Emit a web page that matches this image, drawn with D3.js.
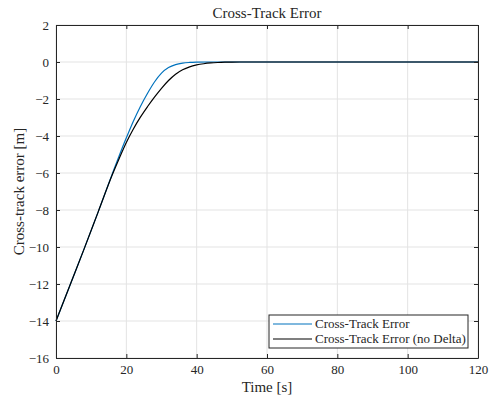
<!DOCTYPE html>
<html>
<head>
<meta charset="utf-8">
<script src="https://cdn.jsdelivr.net/npm/d3@7"></script>
<style>
  body { margin: 0; background: #fff; }
  svg text { font-family: "Liberation Serif", "Times New Roman", serif; fill: #262626; }
</style>
</head>
<body>
<svg id="chart" width="492" height="399"></svg>
<script>
const timeWithDelta  = [0, 4, 8, 12, 16, 18, 20, 22, 24, 26, 28, 30, 32, 34, 36, 38, 40, 44, 50, 60, 80, 100, 120];
const errorWithDelta = [-14, -12.05, -10.1, -8.1, -6.05, -5.05, -4.1, -3.2, -2.4, -1.7, -1.08, -0.6, -0.3, -0.14, -0.06, -0.025, -0.01, 0, 0, 0, 0, 0, 0];

const timeNoDelta  = [0, 4, 8, 12, 16, 18, 20, 22, 24, 26, 28, 30, 32, 34, 36, 38, 40, 42, 44, 46, 48, 50, 55, 60, 80, 100, 120];
const errorNoDelta = [-14, -12.05, -10.1, -8.1, -6.1, -5.2, -4.35, -3.62, -2.98, -2.42, -1.9, -1.42, -1.0, -0.66, -0.42, -0.26, -0.16, -0.095, -0.052, -0.027, -0.012, -0.004, 0, 0, 0, 0, 0];

const xTicks = [0, 20, 40, 60, 80, 100, 120];
const yTicks = [-16, -14, -12, -10, -8, -6, -4, -2, 0, 2];

const seriesNames = ["Cross-Track Error", "Cross-Track Error (no Delta)"];
const seriesColors = ["#0072BD", "#000000"];

const svg = d3.select("#chart");
const margin = { left: 56, right: 14, top: 25, bottom: 41 };
const width = 492 - margin.left - margin.right;
const height = 399 - margin.top - margin.bottom;
const serif = "'Liberation Serif', 'Times New Roman', serif";

const x = d3.scaleLinear().domain([0, 120]).range([0, width]);
const y = d3.scaleLinear().domain([-16, 2]).range([height, 0]);

const g = svg.append("g").attr("transform", `translate(${margin.left},${margin.top})`);

// grid
g.append("g").selectAll("line").data(xTicks).join("line")
  .attr("x1", d => x(d)).attr("x2", d => x(d)).attr("y1", 0).attr("y2", height)
  .attr("stroke", "#e3e3e3").attr("stroke-width", 1);
g.append("g").selectAll("line").data(yTicks).join("line")
  .attr("x1", 0).attr("x2", width).attr("y1", d => y(d)).attr("y2", d => y(d))
  .attr("stroke", "#e3e3e3").attr("stroke-width", 1);

// series
const seriesData = [
  d3.zip(timeWithDelta, errorWithDelta),
  d3.zip(timeNoDelta, errorNoDelta)
];
const line = d3.line().x(d => x(d[0])).y(d => y(d[1])).curve(d3.curveMonotoneX);

seriesData.forEach((data, i) => {
  g.append("path").datum(data)
    .attr("fill", "none")
    .attr("stroke", seriesColors[i])
    .attr("stroke-width", 1.2)
    .attr("d", line);
});

// axes (ticks pointing inside, box on)
const tickLen = 4;
const xAxis = d3.axisBottom(x).tickValues(xTicks).tickSizeInner(-tickLen).tickSizeOuter(0).tickPadding(7);
const yAxis = d3.axisLeft(y).tickValues(yTicks).tickSizeInner(-tickLen).tickSizeOuter(0).tickPadding(7);

const gx = g.append("g").attr("transform", `translate(0,${height})`).call(xAxis);
const gy = g.append("g").call(yAxis);
const gxTop = g.append("g").call(d3.axisTop(x).tickValues(xTicks).tickSizeInner(-tickLen).tickSizeOuter(0).tickFormat(""));
const gyRight = g.append("g").attr("transform", `translate(${width},0)`)
  .call(d3.axisRight(y).tickValues(yTicks).tickSizeInner(-tickLen).tickSizeOuter(0).tickFormat(""));

[gx, gy, gxTop, gyRight].forEach(a => {
  a.attr("font-family", serif).attr("font-size", 13);
  a.select(".domain").attr("stroke", "#262626").attr("stroke-width", 1);
  a.selectAll(".tick line").attr("stroke", "#262626");
  a.selectAll("text").attr("fill", "#262626");
});

// title and labels
svg.append("text").attr("x", margin.left + width / 2).attr("y", 18)
  .attr("text-anchor", "middle").style("font-size", "15px").text("Cross-Track Error");
svg.append("text").attr("x", margin.left + width / 2).attr("y", 392)
  .attr("text-anchor", "middle").style("font-size", "15px").text("Time [s]");
svg.append("text")
  .attr("transform", `translate(24,${margin.top + height / 2}) rotate(-90)`)
  .attr("text-anchor", "middle").style("font-size", "15px").text("Cross-track error [m]");

// legend
const legend = svg.append("g").attr("transform", "translate(269,315)");
legend.append("rect").attr("width", 199).attr("height", 33)
  .attr("fill", "#fff").attr("stroke", "#262626").attr("stroke-width", 1);
seriesNames.forEach((name, i) => {
  const row = legend.append("g").attr("transform", `translate(0,${9 + i * 15})`);
  row.append("line").attr("x1", 4).attr("x2", 43).attr("y1", 0).attr("y2", 0)
    .attr("stroke", seriesColors[i]).attr("stroke-width", 1.2);
  row.append("text").attr("x", 46).attr("y", 4).style("font-size", "13px").text(name);
});
</script>
</body>
</html>
